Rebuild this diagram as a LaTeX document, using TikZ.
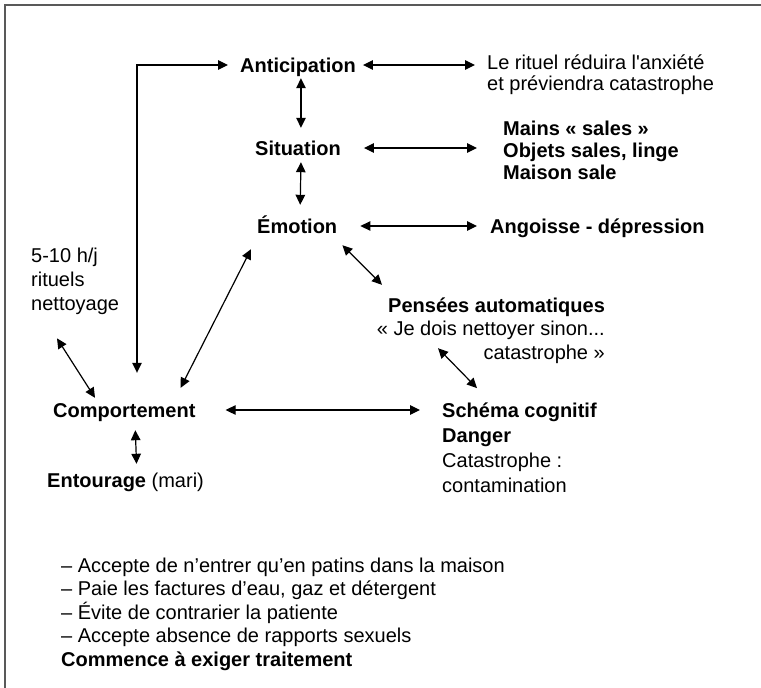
\documentclass[tikz,border=0pt]{standalone}
\usepackage{fontspec}
\setmainfont{Liberation Sans}
\usetikzlibrary{arrows.meta}
\newcommand\fsz{\fontsize{20}{24}\selectfont}
\begin{document}
\begin{tikzpicture}[x=1pt,y=-1pt,
  lbl/.style={inner sep=0pt, text height=14pt, text depth=0pt, anchor=west, font=\fsz},
  lblb/.style={lbl, font=\fsz\bfseries},
  blk/.style={inner sep=0pt, align=left, anchor=base west, font=\fsz},
  dbl/.style={line width=1.2pt, {Triangle[length=10pt,width=9.5pt]}-{Triangle[length=10pt,width=9.5pt]}},
  frame/.style={draw=black!65, line width=1.6pt}]
\useasboundingbox (0,0) rectangle (761,688);
\draw[frame] (5,688) -- (5,5) -- (761,5);

% nodes (multi-line blocks are placed by the baseline of their last line)
\node[lblb] (anti) at (240,65) {Anticipation};
\node[blk, font=\fontsize{20}{21}\selectfont] (rit) at (487,90) {Le rituel réduira l\textquotesingle anxiété\\et préviendra catastrophe};
\node[lblb] (sit) at (255,148) {Situation};
\node[blk, font=\fontsize{20}{22}\selectfont\bfseries] (mains) at (503,179) {Mains «~sales~»\\Objets sales, linge\\Maison sale};
\node[lblb] (emo) at (257,226) {Émotion};
\node[lblb] (ang) at (490,226) {Angoisse - dépression};
\node[blk] (ritu) at (31,310) {5-10 h/j\\rituels\\nettoyage};
\node[lblb] (pens) at (388,305) {Pensées automatiques};
\node[blk, align=right, anchor=base east] (quote) at (605,359) {«~Je dois nettoyer sinon...\\catastrophe~»};
\node[lblb] (comp) at (53,410) {Comportement};
\node[blk, font=\fontsize{20}{25}\selectfont] (schema) at (442,492) {\textbf{Schéma cognitif}\\\textbf{Danger}\\Catastrophe :\\contamination};
\node[lbl] (ent) at (47,480) {\textbf{Entourage} (mari)};
\node[blk, font=\fontsize{20}{23.5}\selectfont] (list) at (61,666) {– Accepte de n’entrer qu’en patins dans la maison\\– Paie les factures d’eau, gaz et détergent\\– Évite de contrarier la patiente\\– Accepte absence de rapports sexuels\\\textbf{Commence à exiger traitement}};

\coordinate (corner) at (137,65);

% connectors
\draw[dbl] ([xshift=-12pt]anti.west) -| ([yshift=30pt]comp.north west -| corner);
\draw[dbl, shorten <=7pt, shorten >=12pt] (anti.east) -- (anti.east -| rit.west);
\draw[dbl] ([xshift=3pt,yshift=-6pt]anti.south) -- ([xshift=3pt,yshift=13pt]sit.north);
\draw[dbl, shorten <=23pt, shorten >=26pt] (sit.east) -- (sit.east -| mains.west);
\draw[dbl] ([xshift=3pt,yshift=-7pt]sit.south) -- ([xshift=3pt,yshift=14pt]emo.north);
\draw[dbl, shorten <=23pt, shorten >=13pt] (emo.east) -- (emo.east -| ang.west);
\draw[dbl] ([shift={(-6pt,-16pt)}]emo.south west) -- ([shift={(-15pt,15pt)}]comp.north east);
\draw[dbl] ([shift={(5pt,-12pt)}]emo.south east) -- ([shift={(-6pt,13pt)}]pens.north west);
\draw[dbl] ([shift={(50pt,-36pt)}]pens.south west) -- ([shift={(35pt,14pt)}]schema.north west);
\draw[dbl, shorten <=30pt, shorten >=22pt] (comp.east) -- (comp.east -| schema.west);
\draw[dbl] ([shift={(11pt,-13pt)}]comp.south) -- ([shift={(11pt,9pt)}]ent.north);
\draw[dbl] ([shift={(26pt,-24pt)}]ritu.south west) -- ([shift={(42pt,5pt)}]comp.north west);
\end{tikzpicture}
\end{document}
